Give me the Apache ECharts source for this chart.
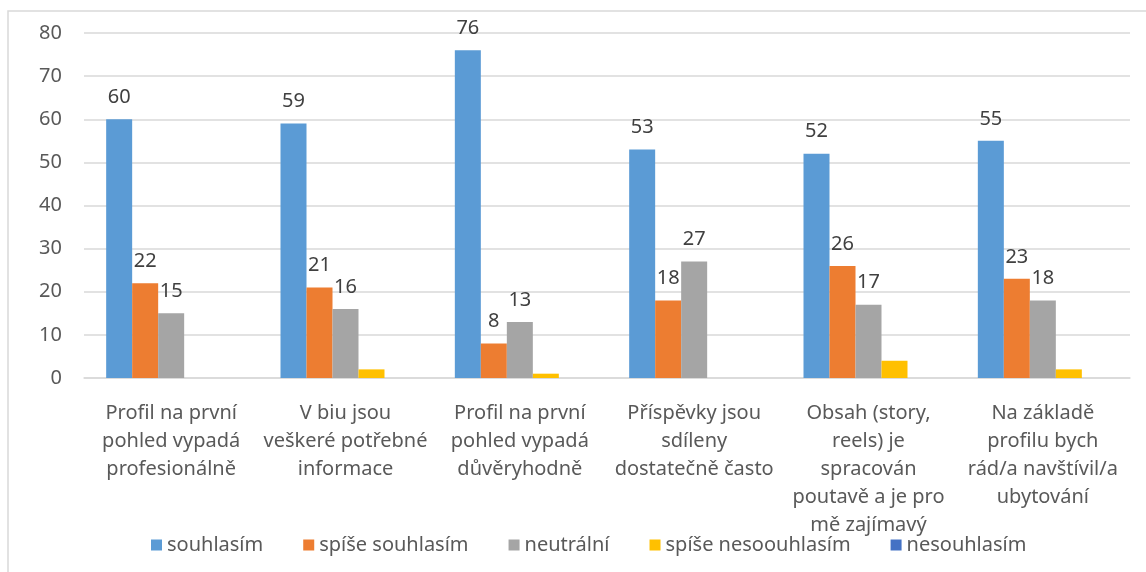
<!DOCTYPE html>
<html>
<head>
<meta charset="utf-8">
<script src="https://cdn.jsdelivr.net/npm/echarts@6/dist/echarts.min.js"></script>
<style>
html, body { margin: 0; padding: 0; background: #fff; }
#profilChart { width: 1146px; height: 572px; }
</style>
</head>
<body>
<div id="profilChart"></div>
<script>
// kategorie (výroky)
const categories = [
  'Profil na první\npohled vypadá\nprofesionálně',
  'V biu jsou\nveškeré potřebné\ninformace',
  'Profil na první\npohled vypadá\ndůvěryhodně',
  'Příspěvky jsou\nsdíleny\ndostatečně často',
  'Obsah (story,\nreels) je\nspracován\npoutavě a je pro\nmě zajímavý',
  'Na základě\nprofilu bych\nrád/a navštívil/a\nubytování'
]
const seriesNames = ['souhlasím', 'spíše souhlasím', 'neutrální', 'spíše nesoouhlasím', 'nesouhlasím']
const souhlasim = [60, 59, 76, 53, 52, 55]
const spiseSouhlasim = [22, 21, 8, 18, 26, 23]
const neutralni = [15, 16, 13, 27, 17, 18]
const spiseNesouhlasim = [0, 2, 1, 0, 4, 2]
const nesouhlasim = [0, 0, 0, 0, 0, 0]
const yTicks = [0, 10, 20, 30, 40, 50, 60, 70, 80]

const colors = ['#5b9bd5', '#ed7d31', '#a5a5a5', '#ffc000', '#4472c4']
const font = '"Noto Sans", "Open Sans", sans-serif'

const chart = echarts.init(document.getElementById('profilChart'))

function makeSeries (name, data, idx, showLabel) {
  return {
    name: name,
    type: 'bar',
    data: data,
    barWidth: 26,
    barGap: '0%',
    itemStyle: { color: colors[idx] },
    label: {
      show: showLabel,
      position: 'top',
      distance: 12,
      color: '#404040',
      fontSize: 20,
      fontFamily: font
    }
  }
}

const option = {
  animation: false,
  color: colors,
  graphic: [{
    type: 'polyline',
    shape: { points: [[8, 572], [8, 11], [1146, 11]] },
    style: { stroke: '#d9d9d9', lineWidth: 1.5, fill: null }
  }],
  legend: {
    data: seriesNames,
    left: 146,
    top: 530,
    itemWidth: 11,
    itemHeight: 11,
    itemGap: 40,
    icon: 'rect',
    textStyle: { color: '#595959', fontSize: 20, fontFamily: font }
  },
  grid: {
    top: 33,
    left: 84,
    right: 16,
    bottom: 194
  },
  xAxis: {
    type: 'category',
    data: categories,
    axisLine: { lineStyle: { color: '#d9d9d9', width: 1.5 } },
    axisTick: { show: false },
    axisLabel: {
      interval: 0,
      margin: 21,
      color: '#595959',
      fontSize: 20,
      lineHeight: 28,
      fontFamily: font,
      verticalAlign: 'top'
    }
  },
  yAxis: {
    type: 'value',
    min: yTicks[0],
    max: yTicks[yTicks.length - 1],
    interval: 10,
    axisLine: { show: false },
    axisTick: { show: false },
    splitLine: { lineStyle: { color: '#d9d9d9', width: 1.5 } },
    axisLabel: {
      margin: 22,
      color: '#595959',
      fontSize: 20,
      fontFamily: font
    }
  },
  series: [
    makeSeries(seriesNames[0], souhlasim, 0, true),
    makeSeries(seriesNames[1], spiseSouhlasim, 1, true),
    makeSeries(seriesNames[2], neutralni, 2, true),
    makeSeries(seriesNames[3], spiseNesouhlasim, 3, false),
    makeSeries(seriesNames[4], nesouhlasim, 4, false)
  ]
}
chart.setOption(option)
</script>
</body>
</html>
